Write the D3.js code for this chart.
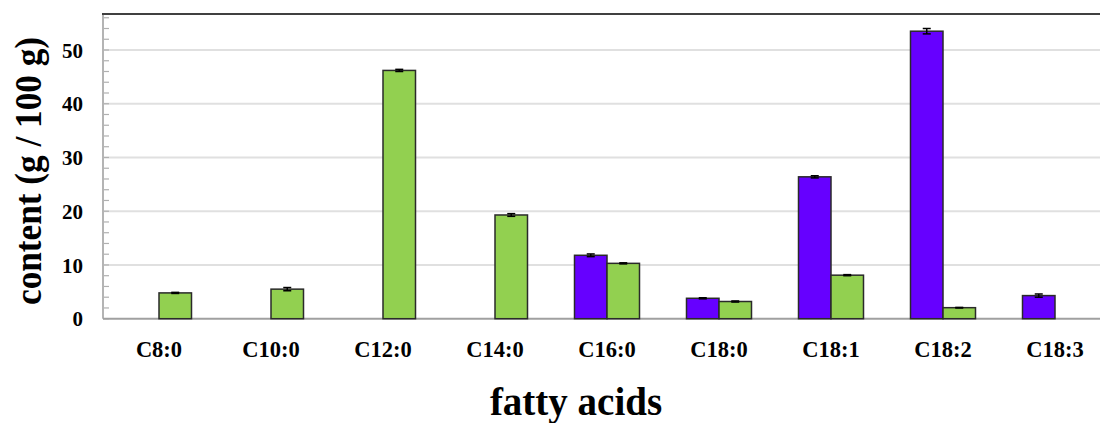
<!DOCTYPE html>
<html>
<head>
<meta charset="utf-8">
<script src="https://cdn.jsdelivr.net/npm/d3@7"></script>
<style>
  html, body { margin: 0; padding: 0; background: #fff; overflow: hidden; }
  svg { display: block; }
  text { font-family: "Liberation Serif", "Times New Roman", serif; font-weight: bold; fill: #000; }
</style>
</head>
<body>
<svg id="chart" width="1100" height="423"></svg>
<script>
// Fatty acid composition, g per 100 g, two oils side by side
const categories = ["C8:0", "C10:0", "C12:0", "C14:0", "C16:0", "C18:0", "C18:1", "C18:2", "C18:3"];
const seriesNames = ["A", "B"];
const seriesA = [null, null, null, null, 11.8, 3.8, 26.4, 53.5, 4.3];       // purple
const seriesAErr = [null, null, null, null, 0.25, 0.1, 0.2, 0.5, 0.3];
const seriesB = [4.8, 5.5, 46.2, 19.3, 10.3, 3.2, 8.1, 2.05, null];           // green
const seriesBErr = [0.1, 0.3, 0.2, 0.25, 0.1, 0.1, 0.1, 0.05, null];
const majorTicks = [0, 10, 20, 30, 40, 50];
const minorTicks = d3.range(0, 57, 2);
const colors = { A: "#6600ff", B: "#92d050" };

const svg = d3.select("#chart");
const plotLeft = 103, plotTop = 14, plotBottom = 318.7, plotRight = 103 + 9 * 112;

const x = d3.scaleBand().domain(categories).range([plotLeft, plotRight]).paddingInner(0).paddingOuter(0);
const xSub = d3.scaleBand().domain(seriesNames)
  .range([x.bandwidth() / 2 - 32.5, x.bandwidth() / 2 + 32.5]);
const y = d3.scaleLinear().domain([0, 56.7]).range([plotBottom, plotTop]);

// gridlines
svg.append("g").selectAll("line").data(majorTicks.filter(d => d > 0)).join("line")
  .attr("x1", plotLeft).attr("x2", plotRight)
  .attr("y1", d => y(d)).attr("y2", d => y(d))
  .attr("stroke", "#e0e0e0").attr("stroke-width", 2);

// minor ticks on the value axis, pointing inward
svg.append("g").selectAll("line").data(minorTicks).join("line")
  .attr("x1", plotLeft).attr("x2", plotLeft + 6)
  .attr("y1", d => y(d)).attr("y2", d => y(d))
  .attr("stroke", "#b0b0b0").attr("stroke-width", 1.2);

// frame: left axis, bottom axis, top border
svg.append("line").attr("x1", plotLeft).attr("x2", plotLeft).attr("y1", plotTop).attr("y2", plotBottom)
  .attr("stroke", "#b4b4b4").attr("stroke-width", 2);
svg.append("line").attr("x1", plotLeft).attr("x2", plotRight).attr("y1", plotBottom).attr("y2", plotBottom)
  .attr("stroke", "#a0a0a0").attr("stroke-width", 2);
svg.append("line").attr("x1", plotLeft - 1).attr("x2", plotRight).attr("y1", plotTop).attr("y2", plotTop)
  .attr("stroke", "#404040").attr("stroke-width", 2);

// bars
const rows = [];
categories.forEach((c, i) => {
  if (seriesA[i] != null) rows.push({ c, s: "A", v: seriesA[i], e: seriesAErr[i] });
  if (seriesB[i] != null) rows.push({ c, s: "B", v: seriesB[i], e: seriesBErr[i] });
});

const bars = svg.append("g");
bars.selectAll("rect").data(rows).join("rect")
  .attr("x", d => x(d.c) + xSub(d.s))
  .attr("width", xSub.bandwidth())
  .attr("y", d => y(d.v))
  .attr("height", d => y(0) - y(d.v))
  .attr("fill", d => colors[d.s])
  .attr("stroke", "#2a2a2a").attr("stroke-width", 1.5);

// error bars
const err = svg.append("g").attr("stroke", "#000").attr("stroke-width", 1.5);
rows.forEach(d => {
  const cx = x(d.c) + xSub(d.s) + xSub.bandwidth() / 2;
  const y1 = y(d.v + d.e), y2 = y(d.v - d.e);
  err.append("line").attr("x1", cx).attr("x2", cx).attr("y1", y1).attr("y2", y2);
  err.append("line").attr("x1", cx - 4).attr("x2", cx + 4).attr("y1", y1).attr("y2", y1);
  err.append("line").attr("x1", cx - 4).attr("x2", cx + 4).attr("y1", y2).attr("y2", y2);
});

// value axis labels
const yAxis = d3.axisLeft(y).tickValues(majorTicks).tickSize(0).tickPadding(0).tickFormat(d3.format("d"));
const gy = svg.append("g").attr("transform", "translate(83,0)").call(yAxis);
gy.select(".domain").remove();
gy.selectAll("text").attr("font-size", 21).attr("font-family", null).attr("dy", "0.34em");

// category labels
const xAxis = d3.axisBottom(x).tickSize(0).tickPadding(0);
const gx = svg.append("g").attr("transform", "translate(0,341)").call(xAxis);
gx.select(".domain").remove();
gx.selectAll("text").attr("font-size", 22.5).attr("font-family", null).attr("dy", "0.71em");

// axis titles
svg.append("text")
  .attr("transform", "translate(41,171) rotate(-90)")
  .attr("text-anchor", "middle")
  .attr("font-size", 38)
  .attr("textLength", 268).attr("lengthAdjust", "spacingAndGlyphs")
  .text("content (g / 100 g)");

svg.append("text")
  .attr("x", 576).attr("y", 415)
  .attr("text-anchor", "middle")
  .attr("font-size", 39)
  .text("fatty acids");
</script>
</body>
</html>
